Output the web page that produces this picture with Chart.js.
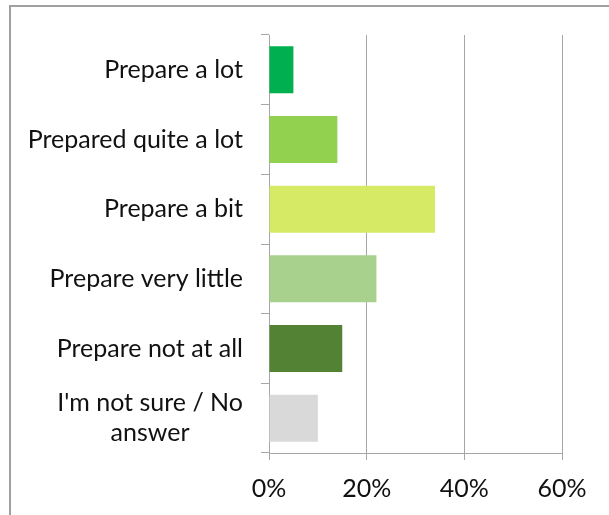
<!DOCTYPE html>
<html>
<head>
<meta charset="utf-8">
<script src="https://cdn.jsdelivr.net/npm/chart.js@4"></script>
<style>
  html, body { margin: 0; padding: 0; background: #fff; }
  #frame { position: absolute; left: 9px; top: 5px; width: 700px; height: 600px; border: 2px solid #a0a0a0; }
  #wrap { position: absolute; left: 0; top: 0; width: 609px; height: 515px; }
</style>
</head>
<body>
<div id="frame"></div>
<div id="wrap"><canvas id="grafica"></canvas></div>
<script>
const categorias = [
  'Prepare a lot',
  'Prepared quite a lot',
  'Prepare a bit',
  'Prepare very little',
  'Prepare not at all',
  ["I'm not sure / No", 'answer']
];
const valores = [5, 14, 34, 22, 15, 10];
const colores = ['#00b050', '#92d050', '#d7ea65', '#a9d18e', '#548235', '#d9d9d9'];
const ticksX = [0, 20, 40, 60];

const FUENTE = 'Lato, "Open Sans", sans-serif';
const TAM = 25;

// etiquetas del eje Y: bloque alineado a la derecha, lineas centradas (como Excel)
const etiquetasY = {
  id: 'etiquetasY',
  afterDraw(chart) {
    const y = chart.scales.y;
    const ctx = chart.ctx;
    ctx.save();
    ctx.font = TAM + 'px ' + FUENTE;
    ctx.fillStyle = '#111';
    ctx.textAlign = 'center';
    ctx.textBaseline = 'middle';
    const derecha = y.right - 8 - 18;
    categorias.forEach((lab, i) => {
      const lineas = Array.isArray(lab) ? lab : [lab];
      const ancho = Math.max(...lineas.map(l => ctx.measureText(l).width));
      const cy = y.getPixelForTick(i);
      lineas.forEach((l, j) => {
        ctx.fillText(l, derecha - ancho / 2, cy + (j - (lineas.length - 1) / 2) * 30);
      });
    });
    ctx.restore();
  }
};

const ctx = document.getElementById('grafica').getContext('2d');
new Chart(ctx, {
  type: 'bar',
  data: {
    labels: categorias,
    datasets: [{
      data: valores,
      backgroundColor: colores,
      borderWidth: 0,
      categoryPercentage: 1,
      barPercentage: 0.675
    }]
  },
  options: {
    indexAxis: 'y',
    responsive: true,
    maintainAspectRatio: false,
    animation: false,
    layout: { padding: { left: 10, top: 35, right: 47, bottom: 0 } },
    scales: {
      x: {
        min: 0,
        max: 60,
        afterBuildTicks: s => { s.ticks = ticksX.map(v => ({ value: v })); },
        afterFit: s => { s.height = 62; },
        grid: { color: '#a6a6a6', lineWidth: 1, tickLength: 7 },
        border: { color: '#a6a6a6' },
        ticks: {
          padding: 14,
          color: '#111',
          font: { family: FUENTE, size: TAM },
          callback: v => v + '%'
        }
      },
      y: {
        afterFit: s => { s.width = 259; },
        grid: { drawOnChartArea: false, color: '#a6a6a6', tickLength: 8 },
        border: { color: '#a6a6a6' },
        ticks: { display: false }
      }
    },
    plugins: {
      legend: { display: false },
      tooltip: { enabled: false }
    }
  },
  plugins: [etiquetasY]
});
</script>
</body>
</html>
